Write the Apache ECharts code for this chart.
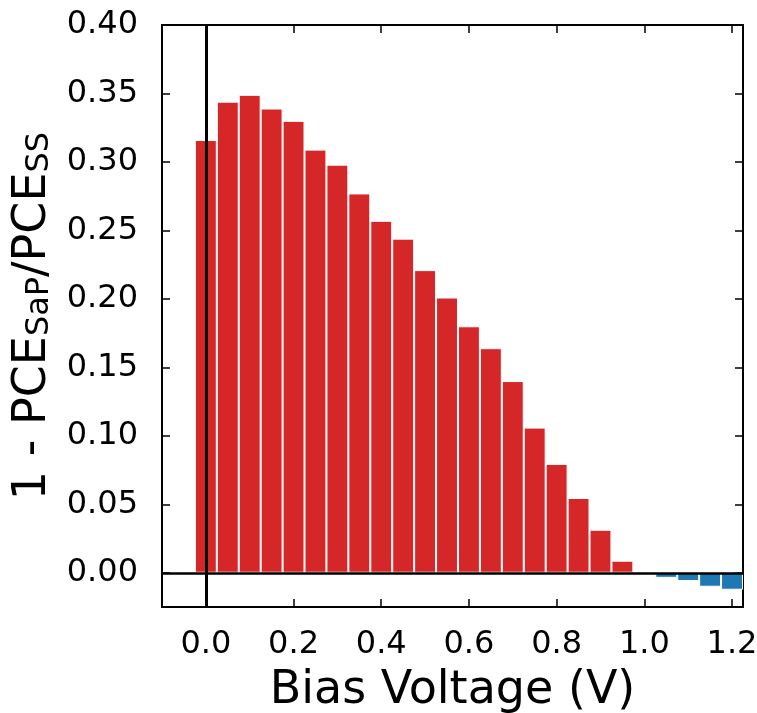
<!DOCTYPE html>
<html>
<head>
<meta charset="utf-8">
<script src="https://cdn.jsdelivr.net/npm/echarts@6/dist/echarts.min.js"></script>
<style>
html,body{margin:0;padding:0;background:#fff;}
#chart{width:757px;height:713px;}
</style>
</head>
<body>
<div id="chart"></div>
<script>
// ---- data ----
const voltages = [0.00, 0.05, 0.10, 0.15, 0.20, 0.25, 0.30, 0.35, 0.40, 0.45,
                  0.50, 0.55, 0.60, 0.65, 0.70, 0.75, 0.80, 0.85, 0.90, 0.95,
                  1.00, 1.05, 1.10, 1.15, 1.20];
const values = [0.316, 0.344, 0.349, 0.339, 0.330, 0.309, 0.298, 0.277, 0.257, 0.244,
                0.221, 0.201, 0.180, 0.164, 0.140, 0.106, 0.0795, 0.0546, 0.0314, 0.0088,
                -0.0012, -0.0037, -0.0060, -0.0102, -0.0124];
const xTicks = [0.0, 0.2, 0.4, 0.6, 0.8, 1.0, 1.2];
const yTicks = [0.00, 0.05, 0.10, 0.15, 0.20, 0.25, 0.30, 0.35, 0.40];

const X_MIN = -0.1, X_MAX = 1.225, Y_MIN = -0.025, Y_MAX = 0.40;
const BAR_STEP = 0.05;

const W = 757, H = 713;
const grid = {left: 162, right: 14, top: 25, bottom: 106, containLabel: false, outerBoundsMode: 'none'};
const barPx = (W - grid.left - grid.right) / (X_MAX - X_MIN) * BAR_STEP;

const FONT = 'DejaVu Sans';
const RED = '#d62728', BLUE = '#1f77b4';

const frameLine = {show: true, onZero: false, lineStyle: {color: '#000', width: 2}};
const tickStyle = {show: true, inside: true, length: 8, lineStyle: {color: '#000', width: 1.5}};

const chart = echarts.init(document.getElementById('chart'), null, {renderer: 'canvas'});
chart.setOption({
  backgroundColor: '#fff',
  animation: false,
  grid: grid,
  xAxis: [
    {
      type: 'value', min: X_MIN, max: X_MAX, position: 'bottom',
      axisLine: frameLine,
      axisTick: Object.assign({customValues: xTicks}, tickStyle),
      axisLabel: {customValues: xTicks, formatter: v => v.toFixed(1), color: '#000',
                  fontFamily: FONT, fontSize: 32, margin: 22},
      splitLine: {show: false},
      name: 'Bias Voltage (V)', nameLocation: 'middle', nameGap: 61,
      nameTextStyle: {fontFamily: FONT, fontSize: 46, color: '#000'}
    },
    {
      type: 'value', min: X_MIN, max: X_MAX, position: 'top',
      axisLine: frameLine,
      axisTick: Object.assign({customValues: xTicks}, tickStyle),
      axisLabel: {show: false}, splitLine: {show: false}
    }
  ],
  yAxis: [
    {
      type: 'value', min: Y_MIN, max: Y_MAX, position: 'left',
      axisLine: frameLine,
      axisTick: Object.assign({customValues: yTicks}, tickStyle),
      axisLabel: {customValues: yTicks, formatter: v => v.toFixed(2), color: '#000',
                  fontFamily: FONT, fontSize: 32, margin: 24},
      splitLine: {show: false},
      name: '{m|1 - PCE}{s|SaP}{m|/PCE}{s|SS}',
      nameLocation: 'middle', nameRotate: 90, nameGap: 103,
      nameTextStyle: {
        fontFamily: FONT, color: '#000',
        rich: {
          m: {fontFamily: FONT, fontSize: 46, lineHeight: 46, color: '#000', verticalAlign: 'top'},
          s: {fontFamily: FONT, fontSize: 32, lineHeight: 32, color: '#000', verticalAlign: 'bottom', padding: [26, 0, 0, 0]}
        }
      }
    },
    {
      type: 'value', min: Y_MIN, max: Y_MAX, position: 'right',
      axisLine: frameLine,
      axisTick: Object.assign({customValues: yTicks}, tickStyle),
      axisLabel: {show: false}, splitLine: {show: false}
    }
  ],
  series: [
    {
      type: 'line', data: [], z: 1, silent: true,
      markLine: {symbol: 'none', silent: true, label: {show: false},
                 lineStyle: {color: '#000', width: 3, type: 'solid'},
                 data: [{xAxis: 0}]}
    },
    {
      type: 'bar', z: 2,
      barWidth: barPx,
      data: voltages.map((v, i) => [v, values[i]]),
      itemStyle: {
        color: p => (p.value[1] >= 0 ? RED : BLUE),
        borderColor: '#fff', borderWidth: 1
      }
    },
    {
      type: 'line', data: [], z: 3, silent: true,
      markLine: {symbol: 'none', silent: true, label: {show: false},
                 lineStyle: {color: '#000', width: 2.5, type: 'solid'},
                 data: [{yAxis: 0}]}
    }
  ]
});
</script>
</body>
</html>
